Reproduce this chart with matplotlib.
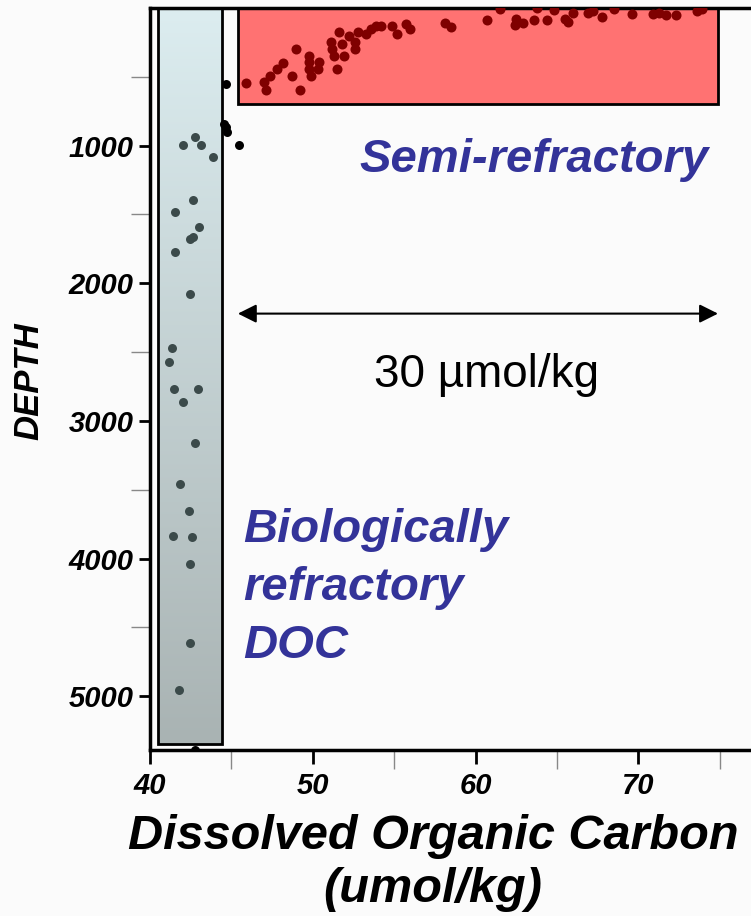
import numpy as np
import matplotlib.pyplot as plt
from matplotlib.colors import LinearSegmentedColormap

# DOC (umol/kg) and depth (m) for the upper ocean, inside the semi-refractory band
semi_doc = [45.9, 47.0, 47.1, 47.4, 47.8, 48.2, 48.7, 49.2, 49.0, 49.8, 49.8, 49.8,
            49.9, 50.4, 50.3, 51.1, 51.2, 51.3, 51.5, 51.6, 51.8, 51.9, 52.2, 52.6,
            52.6, 52.8, 53.3, 53.6, 53.9, 54.2, 54.9, 55.2, 55.7, 56.0, 58.1, 58.5,
            60.7, 62.5, 62.4, 62.9, 63.6, 64.4, 64.8, 65.5, 65.7, 66.0, 66.9, 67.2,
            67.8, 69.6, 70.9, 71.3, 71.7, 72.3, 73.6, 73.9, 61.5, 63.8, 68.5]
semi_depth = [545, 540, 596, 492, 443, 400, 492, 593, 298, 347, 395, 443,
              492, 395, 443, 250, 298, 347, 443, 177, 262, 347, 201, 250,
              298, 177, 189, 153, 129, 129, 129, 189, 117, 153, 112, 136,
              85, 80, 122, 112, 88, 88, 15, 80, 105, 35, 39, 20,
              68, 44, 44, 39, 54, 49, 20, 8, 5, 3, 6]

# transition samples just outside the boxes
trans_doc = [44.7, 44.55, 44.67, 44.75, 45.45, 42.76]
trans_depth = [552, 843, 867, 898, 993, 5387]

# deep ocean, biologically refractory DOC
deep_doc = [42.05, 42.76, 43.11, 43.89, 42.62, 41.54, 43.01, 42.46, 42.62, 41.54,
            42.46, 41.33, 41.19, 41.47, 42.97, 42.01, 42.78, 41.84, 42.42, 41.43,
            42.56, 42.46, 42.46, 41.80]
deep_depth = [993, 940, 993, 1085, 1392, 1484, 1588, 1677, 1666, 1774,
              2077, 2469, 2568, 2767, 2767, 2863, 3159, 3456, 3655, 3839,
              3843, 4042, 4610, 4952]

# extents of the two pools
refractory_box = (40.5, 44.4, 0, 5350)
semi_box = (45.4, 74.9, 0, 700)

label_blue = '#333399'
bold_it = dict(family='Liberation Sans', weight='bold', style='italic')

fig = plt.figure(figsize=(7.51, 9.16), dpi=100, facecolor='#fbfbfb')
ax = fig.add_axes([150 / 751, 166 / 916, 651 / 751, 742 / 916])
ax.set_facecolor('#fbfbfb')
ax.set_xlim(40, 80)
ax.set_ylim(5390, 0)

# gradient-filled refractory box
x0, x1, d0, d1 = refractory_box
grad = np.linspace(0, 1, 256).reshape(-1, 1)
cmap = LinearSegmentedColormap.from_list('deep', ['#dcedf0', '#a9b3b3'])
ax.imshow(grad, extent=(x0, x1, d1, d0), cmap=cmap, aspect='auto', zorder=1)
ax.add_patch(plt.Rectangle((x0, d0), x1 - x0, d1 - d0, fill=False,
                           ec='black', lw=2, zorder=2))

sx0, sx1, sd0, sd1 = semi_box
ax.add_patch(plt.Rectangle((sx0, sd0), sx1 - sx0, sd1 - sd0, fc='#ff7272',
                           ec='black', lw=2, zorder=1))

ax.scatter(semi_doc, semi_depth, s=52, color='#7f0000', zorder=3, lw=0)
ax.scatter(trans_doc, trans_depth, s=42, color='black', zorder=3, lw=0)
ax.scatter(deep_doc, deep_depth, s=42, color='#3b4a4a', zorder=3, lw=0)

# 30 umol/kg span
ax.annotate('', xy=(sx0, 2220), xytext=(sx1, 2220),
            arrowprops=dict(arrowstyle='<|-|>', color='black', lw=1.5,
                            mutation_scale=28, shrinkA=0, shrinkB=0))
ax.text(60.7, 2666, '30 µmol/kg', ha='center', va='center', fontsize=33,
        family='Liberation Sans')

ax.text(63.6, 1104, 'Semi-refractory', ha='center', va='center', fontsize=34,
        color=label_blue, **bold_it)
ax.text(45.7, 4213, 'Biologically\nrefractory\nDOC', ha='left', va='center',
        fontsize=34, color=label_blue, linespacing=1.42, **bold_it)

# axes styling
for side in ['left', 'bottom', 'top']:
    ax.spines[side].set_linewidth(2.5)
ax.spines['right'].set_visible(False)
ax.set_xticks([40, 50, 60, 70])
ax.set_xticks([45, 55, 65, 75], minor=True)
ax.set_yticks([1000, 2000, 3000, 4000, 5000])
ax.set_yticks([500, 1500, 2500, 3500, 4500], minor=True)
ax.tick_params(which='major', axis='y', length=8, width=2, pad=4)
ax.tick_params(which='major', axis='x', length=10, width=2, pad=6)
ax.tick_params(which='minor', length=14, width=1, color='#888888')
for lbl in ax.get_xticklabels() + ax.get_yticklabels():
    lbl.set_fontproperties(dict(size=21, **bold_it))

ax.set_ylabel('DEPTH', fontsize=25, **bold_it)
ax.yaxis.set_label_coords(-105 / 651, 0.5 - 2 / 742)
fig.text(433 / 751, 1 - 863 / 916, 'Dissolved Organic Carbon\n(umol/kg)',
         ha='center', va='center', fontsize=35, linespacing=1.22, **bold_it)

fig.savefig('out.png', dpi=100, facecolor=fig.get_facecolor())
